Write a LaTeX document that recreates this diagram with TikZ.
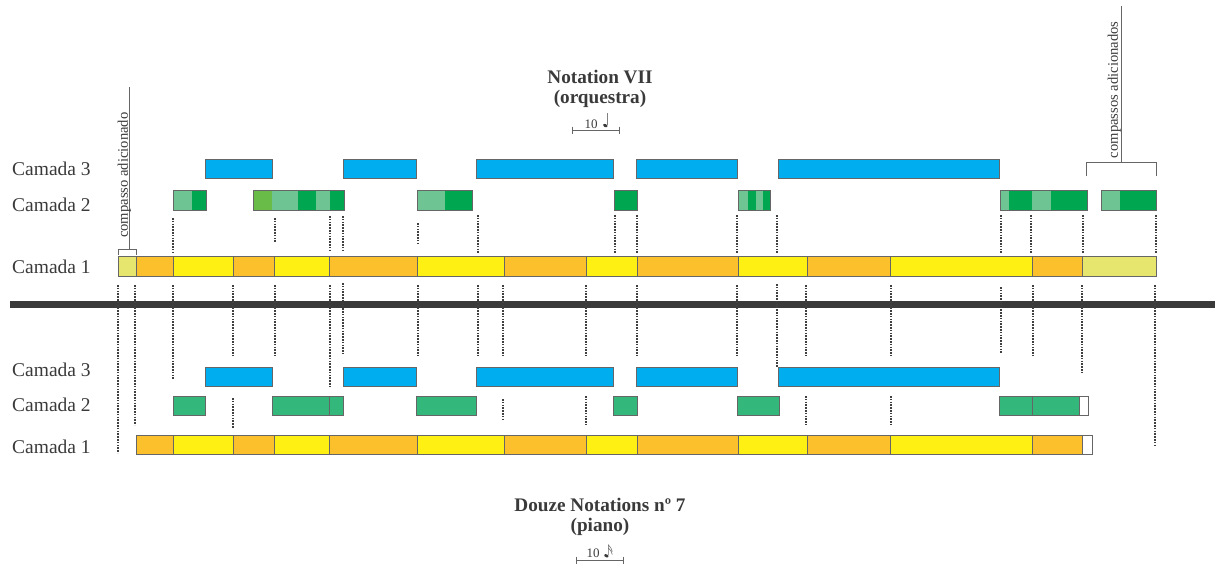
\documentclass[tikz,border=0pt]{standalone}
\usepackage{fontspec}
\setmainfont{Liberation Serif}
\definecolor{barorange}{HTML}{FDC02D}
\definecolor{baryellow}{HTML}{FFF014}
\definecolor{barpale}{HTML}{E6E66E}
\definecolor{barblue}{HTML}{00AEEF}
\definecolor{greenlight}{HTML}{6EC492}
\definecolor{greendark}{HTML}{00A650}
\definecolor{greenmid}{HTML}{69BC48}
\definecolor{greenpiano}{HTML}{34B77B}
\definecolor{inkgray}{HTML}{3A3A3A}

\begin{document}
\begin{tikzpicture}[x=1pt,y=-1pt,line join=miter]
  \tikzstyle{rim}=[draw=black!60,line width=1pt]
  \tikzstyle{guide}=[draw=black!75,line width=2pt,dash pattern=on 1.6pt off 1.2pt]
  \tikzstyle{layer}=[anchor=base west,inner sep=0pt,text=inkgray,font=\fontsize{19.5}{22}\selectfont]
  \tikzstyle{title}=[anchor=base,inner sep=0pt,text=inkgray,font=\bfseries\fontsize{19.2}{22}\selectfont]
  \tikzstyle{remark}=[rotate=90,anchor=base west,inner sep=0pt,text=inkgray,font=\fontsize{14.6}{16}\selectfont]
  \tikzstyle{unit}=[anchor=base west,inner sep=0pt,text=inkgray,font=\fontsize{13}{15}\selectfont]
  \tikzstyle{brace}=[draw=black!60,line width=1pt]
  \useasboundingbox (0,0) rectangle (1215,565);

  % orquestra
  \node[title] (tOrch) at (600,83) {Notation VII};
  \node[title] (tOrchSub) at (600,103) {(orquestra)};
  \node[unit] (uOrch) at (584.5,128) {10};
  \draw[brace] (572.3,130) -- (619,130) (572.3,126.5) -- (572.3,133.5) (619,126.5) -- (619,133.5);
  \fill[inkgray] (605.3,125.6) ellipse [x radius=2.3pt,y radius=1.5pt,rotate=-25];
  \draw[black!50,line width=0.6pt] (607.3,125) -- (607.3,113.3);

  \node[layer] (o3) at (12,175) {Camada 3};
  \node[layer] (o2) at (12,211.5) {Camada 2};
  \node[layer] (o1) at (12,273) {Camada 1};

  \foreach \a/\b in {205/272,343.3/416.7,476.7/613.7,636.7/737.7,778.3/999.3}
    \draw[rim,fill=barblue] (\a,159) rectangle (\b,178.3);

  \foreach \a/\b/\c in {173.3/192/greenlight,192/206/greendark,
      253.3/272/greenmid,272/297.7/greenlight,297.7/315.7/greendark,315.7/330/greenlight,330/344/greendark,
      417/445/greenlight,445/472.3/greendark,614.3/637.7/greendark,
      738.3/747.7/greenlight,747.7/756/greendark,756/762.7/greenlight,762.7/770.7/greendark,
      1000/1009/greenlight,1009/1032.3/greendark,1032.3/1050.7/greenlight,1050.7/1087.3/greendark,
      1101/1120/greenlight,1120/1156/greendark}
    \fill[\c] (\a,190.7) rectangle (\b,210);
  \foreach \a/\b in {173.3/206,253.3/344,417/472.3,614.3/637.7,738.3/770.7,1000/1087.3,1101/1156}
    \draw[rim] (\a,190.7) rectangle (\b,210);

  \foreach \a/\b/\c in {118.3/136.7/barpale,136.7/173.3/barorange,173.3/233.3/baryellow,
      233.3/274.7/barorange,274.7/329.3/baryellow,329.3/417/barorange,417/504/baryellow,
      504/586.7/barorange,586.7/637.3/baryellow,637.3/738.3/barorange,738.3/807/baryellow,
      807/890/barorange,890/1032/baryellow,1032/1082.7/barorange,1082.7/1156/barpale}
    \draw[rim,fill=\c] (\a,256.7) rectangle (\b,276.7);

  \draw[brace] (129,87) -- (129,249) (118.3,254.5) -- (118.3,249) -- (136.7,249) -- (136.7,254.5);
  \node[remark] (addOne) at (127.8,238) {compasso adicionado};
  \draw[brace] (1121.7,6) -- (1121.7,162) (1086.7,175.7) -- (1086.7,162) -- (1156.7,162) -- (1156.7,175.7);
  \node[remark] (addMany) at (1117.8,158.3) {compassos adicionados};

  \draw[draw=inkgray,line width=6.5pt] (10,304.3) -- (1215,304.3);

  % piano
  \node[layer] (p3) at (12,376.7) {Camada 3};
  \node[layer] (p2) at (12,411.7) {Camada 2};
  \node[layer] (p1) at (12,453) {Camada 1};

  \foreach \a/\b in {205/272,343.3/416.7,476.7/613.7,636.7/737.7,778.3/999.3}
    \draw[rim,fill=barblue] (\a,367.3) rectangle (\b,386.7);

  \foreach \a/\b in {173.3/205.7,272/329.3,329.3/343.3,416.7/476.7,613.7/637,737.7/779,999.3/1032.3,1032.3/1079.3}
    \draw[rim,fill=greenpiano] (\a,396) rectangle (\b,415);
  \draw[rim,fill=white] (1079.3,396) rectangle (1088.7,415);

  \foreach \a/\b/\c in {136.7/173.3/barorange,173.3/233.3/baryellow,
      233.3/274.7/barorange,274.7/329.3/baryellow,329.3/417/barorange,417/504/baryellow,
      504/586.7/barorange,586.7/637.3/baryellow,637.3/738.3/barorange,738.3/807/baryellow,
      807/890/barorange,890/1032/baryellow,1032/1082.7/barorange,1082.7/1092/white}
    \draw[rim,fill=\c] (\a,435) rectangle (\b,454);

  \foreach \x/\ya/\yb in {173/218/253,275/218/243,330/216/250,343/216/250,418/223/243,
      478/215/253,615/215/253,637/215/253,737/215/253,777/215/253,
      1001/215/253,1031/215/253,1083/215/253,1156/215/253,
      118/285/453,135/285/425,173/285/379,233/285/356,275/285/356,330/285/387,
      343/283/354,418/285/356,478/285/356,503/285/356,586/285/356,637/285/356,
      737/285/356,777/284/367,806/285/356,891/285/356,1001/287/353,1033/285/356,
      1082/285/373,1155/285/447,
      233/398/428,503/399/419,586/396/425,806/396/425,891/396/425}
    \draw[guide] (\x,\ya) -- (\x,\yb);

  \node[title] (tPiano) at (600,511.7) {Douze Notations nº 7};
  \node[title] (tPianoSub) at (600,531) {(piano)};
  \node[unit] (uPiano) at (586.5,557) {10};
  \draw[brace] (576.7,560) -- (623.3,560) (576.7,556.5) -- (576.7,563.5) (623.3,556.5) -- (623.3,563.5);
  \fill[inkgray] (606.4,555.8) ellipse [x radius=2.3pt,y radius=1.5pt,rotate=-25];
  \draw[black!55,line width=0.6pt] (608.4,555.2) -- (608.4,545)
    .. controls (609.5,547.5) and (612.5,548) .. (612.3,551.5)
    (608.4,548) .. controls (609.5,550.5) and (612.5,551) .. (612.3,554.5);
\end{tikzpicture}
\end{document}
